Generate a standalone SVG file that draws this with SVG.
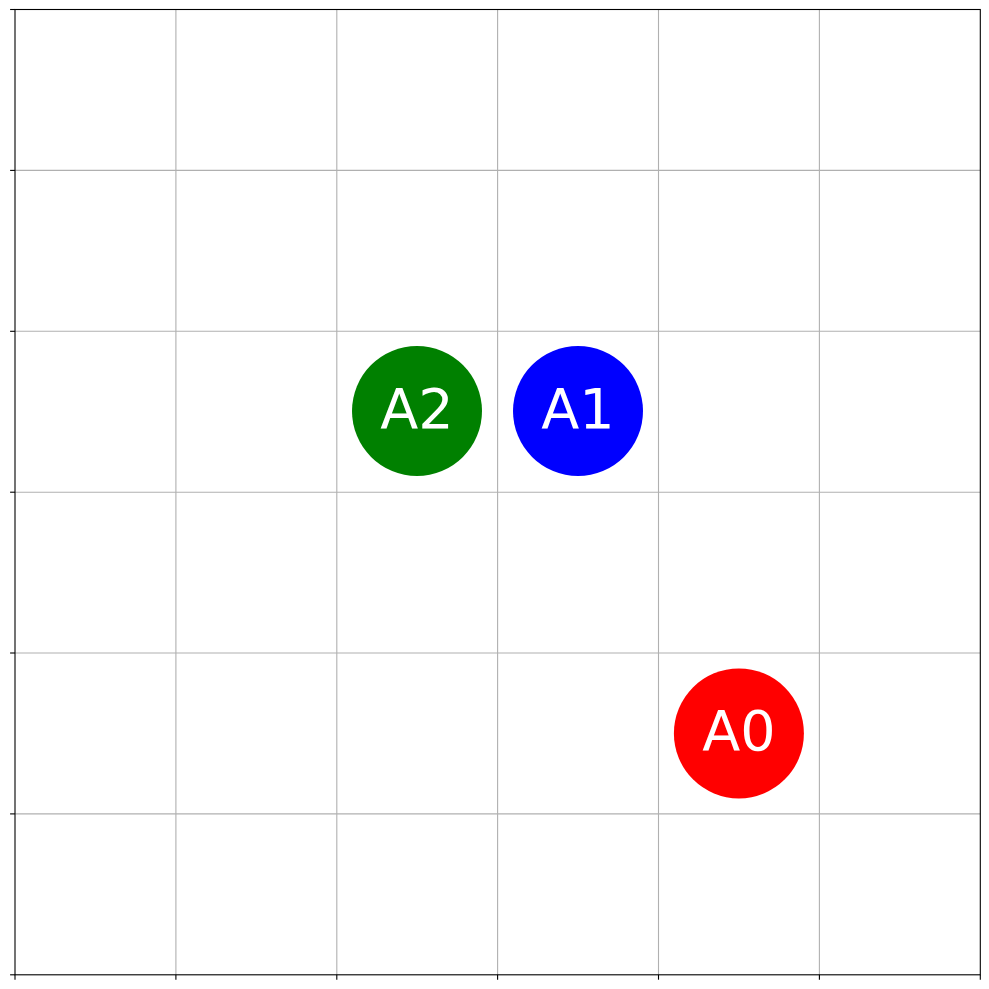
<svg xmlns="http://www.w3.org/2000/svg" width="989" height="989" viewBox="0 0 989 989">
<style>
.grid line{stroke:#b0b0b0;stroke-width:1.1}
.tick line{stroke:#000;stroke-width:1.1}
.lbl{font-family:"DejaVu Sans",sans-serif;font-size:55.6px;fill:#fff;text-anchor:middle}
</style>
<rect width="989" height="989" fill="#fff"/>
<g class="grid">
<line x1="175.9" y1="9.5" x2="175.9" y2="974.8"/>
<line x1="336.8" y1="9.5" x2="336.8" y2="974.8"/>
<line x1="497.6" y1="9.5" x2="497.6" y2="974.8"/>
<line x1="658.5" y1="9.5" x2="658.5" y2="974.8"/>
<line x1="819.4" y1="9.5" x2="819.4" y2="974.8"/>
<line x1="15" y1="170.4" x2="980.3" y2="170.4"/>
<line x1="15" y1="331.3" x2="980.3" y2="331.3"/>
<line x1="15" y1="492.2" x2="980.3" y2="492.2"/>
<line x1="15" y1="653" x2="980.3" y2="653"/>
<line x1="15" y1="813.9" x2="980.3" y2="813.9"/>
</g>
<g class="tick">
<line x1="10.1" y1="9.5" x2="15" y2="9.5"/>
<line x1="10.1" y1="170.4" x2="15" y2="170.4"/>
<line x1="10.1" y1="331.3" x2="15" y2="331.3"/>
<line x1="10.1" y1="492.2" x2="15" y2="492.2"/>
<line x1="10.1" y1="653" x2="15" y2="653"/>
<line x1="10.1" y1="813.9" x2="15" y2="813.9"/>
<line x1="10.1" y1="974.8" x2="15" y2="974.8"/>
<line x1="15" y1="974.8" x2="15" y2="979.7"/>
<line x1="175.9" y1="974.8" x2="175.9" y2="979.7"/>
<line x1="336.8" y1="974.8" x2="336.8" y2="979.7"/>
<line x1="497.6" y1="974.8" x2="497.6" y2="979.7"/>
<line x1="658.5" y1="974.8" x2="658.5" y2="979.7"/>
<line x1="819.4" y1="974.8" x2="819.4" y2="979.7"/>
<line x1="980.3" y1="974.8" x2="980.3" y2="979.7"/>
</g>
<rect x="15" y="9.5" width="965.3" height="965.3" fill="none" stroke="#000" stroke-width="1.1"/>
<g id="A0">
<circle cx="738.9" cy="733.4" r="65" fill="#ff0000"/>
<text class="lbl" x="738.9" y="750">A0</text>
</g>
<g id="A1">
<circle cx="578" cy="411" r="65" fill="#0000ff"/>
<text class="lbl" x="578" y="427.5">A1</text>
</g>
<g id="A2">
<circle cx="417" cy="411" r="65" fill="#008000"/>
<text class="lbl" x="417" y="427.5">A2</text>
</g>
</svg>
